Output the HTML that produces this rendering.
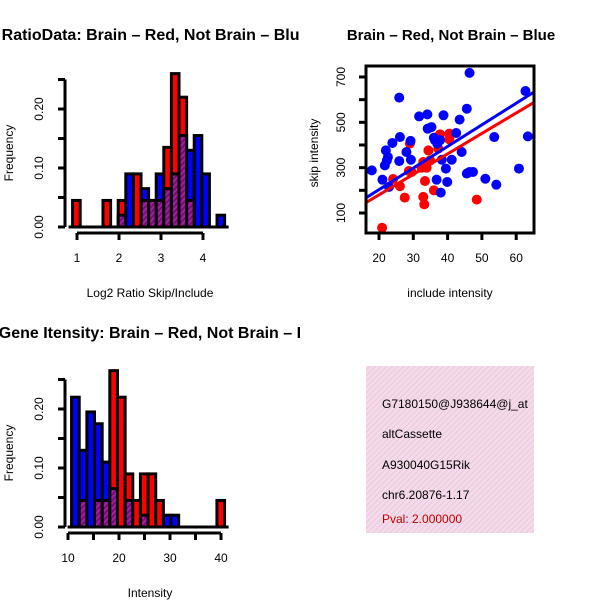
<!DOCTYPE html>
<html><head><meta charset="utf-8"><style>
html,body{margin:0;padding:0;background:#fff}
svg{display:block;font-family:"Liberation Sans",Arial,sans-serif}
</style></head><body>
<svg id="s" width="600" height="600" viewBox="0 0 600 600" xmlns="http://www.w3.org/2000/svg">
<defs>
<pattern id="purp" width="4" height="4" patternUnits="userSpaceOnUse" patternTransform="rotate(45)">
<rect width="4" height="4" fill="#a020a0"/><rect width="2" height="4" fill="#7a0a7a"/></pattern>
<pattern id="pink" width="4" height="4" patternUnits="userSpaceOnUse" patternTransform="rotate(45)">
<rect width="4" height="4" fill="#f7d8ee"/><rect width="1" height="4" fill="#e0d0d0"/></pattern>
<clipPath id="c1"><rect x="0" y="0" width="300" height="300"/></clipPath>
<clipPath id="c3"><rect x="0" y="300" width="300" height="300"/></clipPath>
<clipPath id="cb"><rect x="366" y="366" width="168" height="167"/></clipPath>
<clipPath id="cs"><rect x="366" y="66" width="168" height="167"/></clipPath>
</defs>
<g clip-path="url(#c1)"><text x="155" y="40" text-anchor="middle" font-size="16" font-weight="bold">RatioData: Brain – Red, Not Brain – Blue</text></g>
<text x="451" y="40" text-anchor="middle" font-size="15" font-weight="bold">Brain – Red, Not Brain – Blue</text>
<g clip-path="url(#c3)"><text x="165" y="338" text-anchor="middle" font-size="16" font-weight="bold">Gene Itensity: Brain – Red, Not Brain – Blue</text></g>
<g id="h1"></g>
<g id="h2"></g>
<g id="sc"></g>
<g>
<rect x="366" y="366" width="168" height="167" fill="url(#pink)"/>
<g clip-path="url(#cb)" font-size="12">
<text x="382" y="408">G7180150@J938644@j_at</text>
<text x="382" y="438">altCassette</text>
<text x="382" y="469">A930040G15Rik</text>
<text x="382" y="499">chr6.20876-1.17</text>
<text x="382" y="523" fill="#c00000">Pval: 2.000000</text>
</g></g>
</svg>
<script>
// Ratio histogram data
const ratioRed  = [0.045,0,0,0,0.045,0,0.045,0,0.09,0.045,0.045,0.045,0.135,0.26,0.22,0.045,0,0,0,0];
const ratioBlue = [0,0,0,0,0,0,0.02,0.09,0,0.065,0.045,0.09,0.065,0.09,0.155,0.13,0.155,0.09,0,0.02];
const ratioXTicks = [1,2,3,4];
const ratioYTicks = [0,0.05,0.10,0.15,0.20,0.25];
const ratioYLabels = ["0.00","","0.10","","0.20",""];
// Intensity histogram data
const intRed  = [0,0.045,0,0.045,0.045,0.265,0.22,0.09,0.045,0.09,0.09,0.045,0,0,0,0,0,0,0,0.045];
const intBlue = [0.22,0.13,0.195,0.175,0.11,0.065,0,0.045,0,0.02,0,0,0.02,0.02,0,0,0,0,0,0];
const intXTicks = [10,15,20,25,30,35,40];
const intXLabels = ["10","","20","","30","","40"];
// Scatter data
const blueX = [17.9,21.0,22.9,21.7,22.3,22.0,22.6,23.9,25.9,26.1,25.9,28.0,29.2,29.3,31.7,34.1,34.2,35.3,38.8,36.3,37.0,37.8,38.3,39.5,39.9,41.2,36.8,38.0,42.5,43.5,44.1,45.6,46.4,45.6,46.4,47.4,51.0,53.6,54.2,60.8,62.7,63.4,36.0];
const blueY = [288,247,215,310,332,376,347,409,609,435,329,369,418,335,526,535,472,479,531,421,406,421,335,296,237,335,247,190,453,512,369,560,718,274,281,281,251,435,225,296,638,438,432];
const redX = [20.9,24.1,26.1,27.5,29.0,29.5,32.9,32.9,33.2,33.4,33.9,34.4,36.0,37.3,37.3,37.8,40.5,40.5,48.5,28.7,34.9,32.4];
const redY = [35,250,218,168,406,281,325,171,138,241,300,376,200,384,438,447,450,425,159,285,332,300];
// fitted lines [intercept, slope]
const blueFit = [12.5, 9.53];
const redFit = [-0.5, 9.03];
const scXTicks = [20,30,40,50,60];
const scYTicks = [100,200,300,400,500,600,700];
const scYLabels = ["100","","300","","500","","700"];

const NS="http://www.w3.org/2000/svg";
function mk(parent,tag,attrs,txt){const e=document.createElementNS(NS,tag);for(const k in attrs)e.setAttribute(k,attrs[k]);if(txt!==undefined)e.textContent=txt;parent.appendChild(e);return e;}

function hist(g, red, blue, binStart, binW, sx, sy, y0){
  for(let i=0;i<red.length;i++){
    const r=red[i], b=blue[i];
    const x0=sx(binStart+i*binW), x1=sx(binStart+(i+1)*binW);
    const mx=Math.max(r,b), mn=Math.min(r,b);
    if(mx>0){
      const el=mk(g,'rect',{x:x0,y:sy(mx),width:x1-x0,height:y0-sy(mx),fill:r>=b?'#ff0000':'#0000ff',stroke:'#000','stroke-width':3});
      
      
    }
    if(mn>0){
      const el=mk(g,'rect',{x:x0,y:sy(mn),width:x1-x0,height:y0-sy(mn),fill:'url(#purp)',stroke:'#000','stroke-width':3});
      
      
    }
  }
  mk(g,'line',{x1:sx(binStart)-4,x2:sx(binStart+red.length*binW)+4,y1:y0,y2:y0,stroke:'#000','stroke-width':3});
}
function yAxis(g,x,ticks,labels,sy,name,lx){
  const ax=mk(g,'g',{});
  
  
  mk(ax,'line',{x1:x,x2:x,y1:sy(ticks[0]),y2:sy(ticks[ticks.length-1]),stroke:'#000','stroke-width':3});
  ticks.forEach((t,i)=>{mk(ax,'line',{x1:x-7,x2:x,y1:sy(t),y2:sy(t),stroke:'#000','stroke-width':3});
    if(labels[i])mk(ax,'text',{x:lx,y:sy(t),'text-anchor':'middle','font-size':12,transform:`rotate(-90 ${lx} ${sy(t)})`},labels[i]);});
}
function xAxis(g,y,ticks,labels,sx,name,ly){
  const ax=mk(g,'g',{});
  
  
  mk(ax,'line',{x1:sx(ticks[0]),x2:sx(ticks[ticks.length-1]),y1:y,y2:y,stroke:'#000','stroke-width':3});
  ticks.forEach((t,i)=>{mk(ax,'line',{x1:sx(t),x2:sx(t),y1:y,y2:y+7,stroke:'#000','stroke-width':3});
    if(labels[i])mk(ax,'text',{x:sx(t),y:ly,'text-anchor':'middle','font-size':12},labels[i]);});
}
function rotLabel(g,x,y,txt,name){const t=mk(g,'text',{x:x,y:y,'text-anchor':'middle','font-size':12,transform:`rotate(-90 ${x} ${y})`},txt);
  }
function label(g,x,y,txt,name){const t=mk(g,'text',{x:x,y:y,'text-anchor':'middle','font-size':12},txt);
  }

// Panel 1
(function(){
  const g=document.getElementById('h1');
  const sx=v=>77+(v-1)*42, sy=v=>227-v*590;
  hist(g,ratioRed,ratioBlue,0.895,0.181,sx,sy,227);
  yAxis(g,65,ratioYTicks,ratioYLabels,sy,'ratio-y-axis',43);
  xAxis(g,233,ratioXTicks,ratioXTicks.map(String),sx,'ratio-x-axis',262);
  rotLabel(g,13,153,'Frequency','ratio-y-axis-title');
  label(g,150,297,'Log2 Ratio Skip/Include','ratio-x-axis-title');
})();
// Panel 3
(function(){
  const g=document.getElementById('h2');
  const sx=v=>68+(v-10)*5.1, sy=v=>527-v*590;
  hist(g,intRed,intBlue,10.7,1.5,sx,sy,527);
  yAxis(g,65,ratioYTicks,ratioYLabels,sy,'intensity-y-axis',43);
  xAxis(g,533,intXTicks,intXLabels,sx,'intensity-x-axis',562);
  rotLabel(g,13,453,'Frequency','intensity-y-axis-title');
  label(g,150,597,'Intensity','intensity-x-axis-title');
})();
// Scatter
(function(){
  const g=document.getElementById('sc');
  const sx=v=>379+(v-20)*3.43, sy=v=>213-(v-100)*0.2267;
  const pts=mk(g,'g',{'clip-path':'url(#cs)'});
  redX.forEach((x,i)=>{const c=mk(pts,'circle',{cx:sx(x),cy:sy(redY[i]),r:5,fill:'#ff0000'});
    });
  blueX.forEach((x,i)=>{const c=mk(pts,'circle',{cx:sx(x),cy:sy(blueY[i]),r:5,fill:'#0000ff'});
    });
  const [ab,bb]=blueFit,[ar,br]=redFit;
  const l1=mk(pts,'line',{x1:sx(10),y1:sy(ab+bb*10),x2:sx(70),y2:sy(ab+bb*70),stroke:'#0000ff','stroke-width':3});
  
  const l2=mk(pts,'line',{x1:sx(10),y1:sy(ar+br*10),x2:sx(70),y2:sy(ar+br*70),stroke:'#ff0000','stroke-width':3});
  
  const box=mk(g,'rect',{x:366,y:66,width:168,height:167,fill:'none',stroke:'#000','stroke-width':3});
  
  yAxis(g,366,scYTicks,scYLabels,sy,'scatter-y-axis',345);
  xAxis(g,233,scXTicks,scXTicks.map(String),sx,'scatter-x-axis',262);
  rotLabel(g,318,153,'skip intensity','scatter-y-axis-title');
  label(g,450,297,'include intensity','scatter-x-axis-title');
})();
</script>
</body></html>
